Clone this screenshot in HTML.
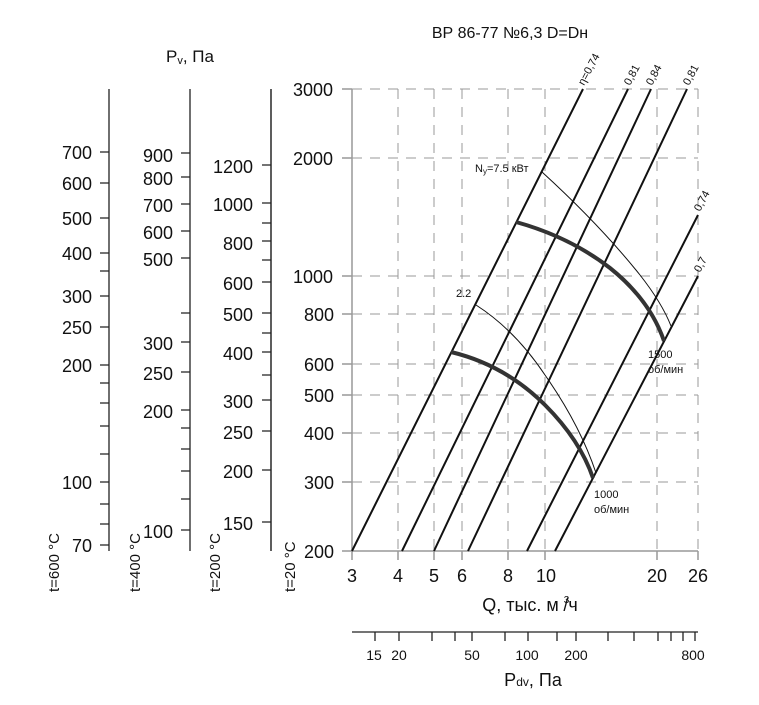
<!DOCTYPE html>
<html><head><meta charset="utf-8"><style>
body{margin:0;background:#fff}
svg{display:block}
text{font-family:"Liberation Sans","DejaVu Sans",sans-serif;fill:#111}
</style></head><body>
<svg width="759" height="705" viewBox="0 0 759 705" xmlns="http://www.w3.org/2000/svg">
<text x="510" y="38" font-size="16" text-anchor="middle">ВР 86-77 №6,3 D=Dн</text>
<text x="190" y="62" font-size="17" text-anchor="middle">P<tspan font-size="11" dy="2">v</tspan><tspan dy="-2">, Па</tspan></text>

<!-- grid -->
<g stroke="#999" stroke-width="1" stroke-dasharray="10,8" fill="none">
<line x1="352" y1="89" x2="698" y2="89"/>
<line x1="352" y1="158" x2="698" y2="158"/>
<line x1="352" y1="276" x2="698" y2="276"/>
<line x1="352" y1="314" x2="698" y2="314"/>
<line x1="352" y1="364" x2="698" y2="364"/>
<line x1="352" y1="395" x2="698" y2="395"/>
<line x1="352" y1="433" x2="698" y2="433"/>
<line x1="352" y1="482" x2="698" y2="482"/>
<line x1="398" y1="89" x2="398" y2="551"/>
<line x1="434" y1="89" x2="434" y2="551"/>
<line x1="462" y1="89" x2="462" y2="551"/>
<line x1="508" y1="89" x2="508" y2="551"/>
<line x1="545" y1="89" x2="545" y2="551"/>
<line x1="657" y1="89" x2="657" y2="551"/>
<line x1="698" y1="89" x2="698" y2="551"/>
</g>
<g stroke="#999" stroke-width="1.5" fill="none">
<line x1="352" y1="89" x2="352" y2="551"/>
<line x1="352" y1="551" x2="698" y2="551"/>
<line x1="342" y1="89" x2="352" y2="89"/><line x1="342" y1="158" x2="352" y2="158"/>
<line x1="342" y1="276" x2="352" y2="276"/><line x1="342" y1="314" x2="352" y2="314"/>
<line x1="342" y1="364" x2="352" y2="364"/><line x1="342" y1="395" x2="352" y2="395"/>
<line x1="342" y1="433" x2="352" y2="433"/><line x1="342" y1="482" x2="352" y2="482"/>
<line x1="342" y1="551" x2="352" y2="551"/>
<line x1="352" y1="551" x2="352" y2="560"/><line x1="398" y1="551" x2="398" y2="560"/>
<line x1="434" y1="551" x2="434" y2="560"/><line x1="462" y1="551" x2="462" y2="560"/>
<line x1="508" y1="551" x2="508" y2="560"/><line x1="545" y1="551" x2="545" y2="560"/>
<line x1="657" y1="551" x2="657" y2="560"/><line x1="698" y1="551" x2="698" y2="560"/>
<line x1="271" y1="89" x2="271" y2="551"/>
</g>
<g font-size="18" text-anchor="end">
<text x="333" y="96">3000</text><text x="333" y="165">2000</text>
<text x="333" y="283">1000</text><text x="334" y="321">800</text>
<text x="334" y="371">600</text><text x="334" y="402">500</text>
<text x="334" y="440">400</text><text x="334" y="489">300</text>
<text x="334" y="558">200</text>
</g>
<g font-size="18" text-anchor="middle">
<text x="352" y="582">3</text><text x="398" y="582">4</text><text x="434" y="582">5</text>
<text x="462" y="582">6</text><text x="508" y="582">8</text><text x="546" y="582">10</text>
<text x="657" y="582">20</text><text x="698" y="582">26</text>
</g>
<text x="530" y="611" font-size="18" text-anchor="middle">Q, тыс. м <tspan font-size="10" dy="-8">3</tspan><tspan dy="8" dx="-6">/ч</tspan></text>

<!-- left axes -->
<g stroke="#222" stroke-width="1.3" fill="none">
<line x1="109" y1="89" x2="109" y2="551"/>
<line x1="190" y1="89" x2="190" y2="551"/>
<line x1="271" y1="89" x2="271" y2="551"/>
<path d="M100 152H109M100 183H109M100 218H109M100 253H109M100 271H109M100 296H109M100 327H109M100 365H109M100 383H109M100 403H109M100 426H109M100 454H109M100 482H109M100 504H109M100 524H109M100 545H109"/>
<path d="M181 153H190M181 177H190M181 204H190M181 231H190M181 258H190M181 313H190M181 342H190M181 372H190M181 410H190M181 428H190M181 449H190M181 471H190M181 499H190M181 530H190"/>
<path d="M262 165H271M262 203H271M262 223H271M262 241H271M262 260H271M262 282H271M262 313H271M262 333H271M262 352H271M262 375H271M262 400H271M262 431H271M262 470H271M262 522H271"/>
</g>
<g font-size="18" text-anchor="end">
<text x="92" y="159">700</text><text x="92" y="190">600</text><text x="92" y="225">500</text>
<text x="92" y="260">400</text><text x="92" y="303">300</text><text x="92" y="334">250</text>
<text x="92" y="372">200</text><text x="92" y="489">100</text><text x="92" y="552">70</text>
<text x="173" y="162">900</text><text x="173" y="185">800</text><text x="173" y="212">700</text>
<text x="173" y="239">600</text><text x="173" y="266">500</text><text x="173" y="350">300</text>
<text x="173" y="380">250</text><text x="173" y="418">200</text><text x="173" y="538">100</text>
<text x="253" y="173">1200</text><text x="253" y="211">1000</text><text x="253" y="250">800</text>
<text x="253" y="290">600</text><text x="253" y="321">500</text><text x="253" y="360">400</text>
<text x="253" y="408">300</text><text x="253" y="439">250</text><text x="253" y="478">200</text>
<text x="253" y="530">150</text>
</g>
<g font-size="15">
<text transform="translate(59,592) rotate(-90)">t=600 °C</text>
<text transform="translate(140,592) rotate(-90)">t=400 °C</text>
<text transform="translate(220,592) rotate(-90)">t=200 °C</text>
<text transform="translate(295,592) rotate(-90)">t=20 °C</text>
</g>

<!-- efficiency lines -->
<g stroke="#111" stroke-width="2" fill="none">
<line x1="352" y1="551" x2="583" y2="89"/>
<line x1="402" y1="551" x2="628" y2="89"/>
<line x1="434" y1="551" x2="651" y2="89"/>
<line x1="468" y1="551" x2="687" y2="89"/>
<line x1="527" y1="551" x2="698" y2="215"/>
<line x1="555" y1="551" x2="698" y2="276"/>
</g>
<g font-size="11">
<text transform="translate(584,86) rotate(-62)">η=0,74</text>
<text transform="translate(630,86) rotate(-62)">0,81</text>
<text transform="translate(652,86) rotate(-62)">0,84</text>
<text transform="translate(689,86) rotate(-62)">0,81</text>
<text transform="translate(700,212) rotate(-62)">0,74</text>
<text transform="translate(700,273) rotate(-62)">0,7</text>
</g>
<g stroke="#111" stroke-width="1" fill="none">
<path d="M542 172 Q600 225 640 275 Q662 303 671 326"/>
<path d="M476 305 Q515 330 545 375 Q580 425 596 473"/>
</g>
<g stroke="#333" stroke-width="4" fill="none" stroke-linecap="butt">
<path d="M516 222 Q570 237 610 268 Q650 300 664 341"/>
<path d="M451 352 Q505 365 545 405 Q580 440 593 478"/>
</g>
<g font-size="11">
<text x="475" y="172">N<tspan font-size="8" dy="2">y</tspan><tspan dy="-2">=7.5 кВт</tspan></text>
<text x="456" y="297">2.2</text>
<text x="648" y="358">1500</text><text x="648" y="373">об/мин</text>
<text x="594" y="498">1000</text><text x="594" y="513">об/мин</text>
</g>

<g stroke="#222" stroke-width="1.3" fill="none">
<line x1="352" y1="632" x2="698" y2="632"/>
<path d="M375 632V641M399 632V641M432 632V641M455 632V641M472 632V641M505 632V641M528 632V641M557 632V641M576 632V641M608 632V641M634 632V641M658 632V641M671 632V641M683 632V641M695 632V641"/>
</g>
<g font-size="14" text-anchor="middle">
<text x="374" y="660">15</text><text x="399" y="660">20</text><text x="472" y="660">50</text>
<text x="527" y="660">100</text><text x="576" y="660">200</text><text x="693" y="660">800</text>
</g>
<text x="533" y="686" font-size="18" text-anchor="middle">P<tspan font-size="12">dv</tspan>, Па</text>
</svg>
</body></html>
